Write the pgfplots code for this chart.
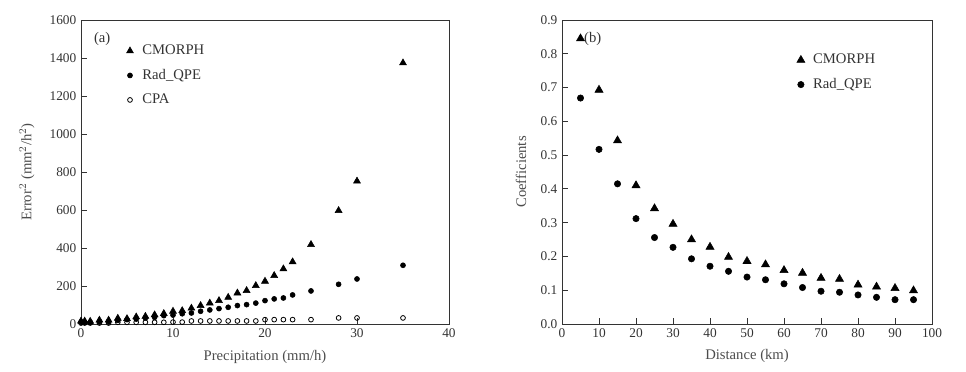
\documentclass[border=0pt]{standalone}
\usepackage{pgfplots}
\pgfplotsset{compat=1.18}
\usepackage{fontspec}
\setmainfont{Liberation Serif}
\pgfplotsset{
  common/.style={
    scale only axis,
    height=228pt,
    axis line style={black!80, line width=0.7pt},
    tick align=inside,
    xtick pos=bottom, ytick pos=left,
    major tick length=4.5pt,
    tick style={black!80, line width=0.6pt},
    /pgf/number format/assume math mode=true,
    ticklabel style={font=\fontsize{10}{12}\selectfont, text=black!80},
    label style={font=\fontsize{11}{13}\selectfont, text=black!70},
    legend cell align=left,
    legend style={draw=none, fill=none, font=\fontsize{11}{13}\selectfont, text=black!80, row sep=5.4pt, inner sep=0pt},
    legend image code/.code={\draw[#1] plot coordinates {(0pt,0pt)}; \path (7pt,0pt);},
  }
}
\begin{document}
\begin{tikzpicture}
\useasboundingbox (0,0) rectangle (724.5pt,278.25pt);
% Panel (a)
\begin{axis}[common,
  at={(60.75pt,35.25pt)}, anchor=south west,
  width=276pt,
  xmin=0, xmax=40, ymin=0, ymax=1600,
  xtick={0,10,20,30,40},
  ytick={0,200,400,600,800,1000,1200,1400,1600},
  yticklabel style={/pgf/number format/1000 sep={}},
  xlabel={Precipitation (mm/h)},
  ylabel={Error$^2$ (mm$^2$/h$^2$)},
  xlabel style={at={(axis description cs:0.5,-0.11)}, anchor=center},
  ylabel style={at={(axis description cs:-0.147,0.5)}, anchor=center},
  legend style={at={(axis description cs:0.123,0.927)}, anchor=north west},
  clip=false,
]
\addplot[only marks, mark=triangle*, mark size=3pt, black] coordinates {
(0,15) (0.4,15) (1,14) (2,20) (3,20) (4,30) (5,28) (6,37) (7,40) (8,48) (9,55)
(10,67) (11,70) (12,83) (13,97) (14,110) (15,123) (16,140) (17,163) (18,176)
(19,202) (20,225) (21,255) (22,290) (23,327) (25,418) (28,597) (30,752) (35,1374)
};
\addlegendentry{CMORPH}
\addplot[only marks, mark=*, mark size=1.9pt, black] coordinates {
(0,9) (0.4,9) (1,9) (2,12) (3,12) (4,19) (5,23) (6,26) (7,32) (8,35) (9,44)
(10,47) (11,54) (12,58) (13,67) (14,74) (15,81) (16,88) (17,97) (18,102)
(19,110) (20,123) (21,132) (22,137) (23,153) (25,174) (28,209) (30,237) (35,309)
};
\addlegendentry{Rad\_QPE}
\addplot[only marks, mark=o, mark size=1.8pt, black, line width=0.6pt] coordinates {
(0,5) (0.4,5) (1,5) (2,5) (3,5) (4,9) (5,9) (6,9) (7,9) (8,9) (9,9)
(10,10) (11,10) (12,16) (13,16) (14,16) (15,16) (16,16) (17,16) (18,16)
(19,16) (20,23) (21,23) (22,23) (23,23) (25,23) (28,32) (30,32) (35,32)
};
\addlegendentry{CPA}
\node[font=\fontsize{11}{13}\selectfont, text=black!80] at (axis cs:2.3,1500) {(a)};
\end{axis}
% Panel (b)
\begin{axis}[common,
  at={(421.5pt,35.25pt)}, anchor=south west,
  width=277.5pt,
  xmin=0, xmax=100, ymin=0, ymax=0.9,
  xtick={0,10,20,30,40,50,60,70,80,90,100},
  ytick={0,0.1,0.2,0.3,0.4,0.5,0.6,0.7,0.8,0.9},
  yticklabel style={/pgf/number format/.cd, fixed, fixed zerofill, precision=1},
  xlabel={Distance (km)},
  ylabel={Coefficients},
  xlabel style={at={(axis description cs:0.5,-0.105)}, anchor=center},
  ylabel style={at={(axis description cs:-0.111,0.5)}, anchor=center},
  legend style={at={(axis description cs:0.634,0.897)}, anchor=north west},
  clip=false,
]
\addplot[only marks, mark=triangle*, mark size=3.5pt, black] coordinates {
(5,0.845) (10,0.693) (15,0.543) (20,0.410) (25,0.342) (30,0.296) (35,0.250)
(40,0.228) (45,0.198) (50,0.186) (55,0.176) (60,0.159) (65,0.151) (70,0.136)
(75,0.133) (80,0.116) (85,0.110) (90,0.106) (95,0.099)
};
\addlegendentry{CMORPH}
\addplot[only marks, mark=*, mark size=2.4pt, black] coordinates {
(5,0.669) (10,0.517) (15,0.415) (20,0.312) (25,0.256) (30,0.227) (35,0.193)
(40,0.171) (45,0.156) (50,0.139) (55,0.131) (60,0.119) (65,0.108) (70,0.097)
(75,0.094) (80,0.086) (85,0.079) (90,0.072) (95,0.072)
};
\addlegendentry{Rad\_QPE}
\node[font=\fontsize{11}{13}\selectfont, text=black!80] at (axis cs:8.3,0.845) {(b)};
\end{axis}
\end{tikzpicture}
\end{document}
